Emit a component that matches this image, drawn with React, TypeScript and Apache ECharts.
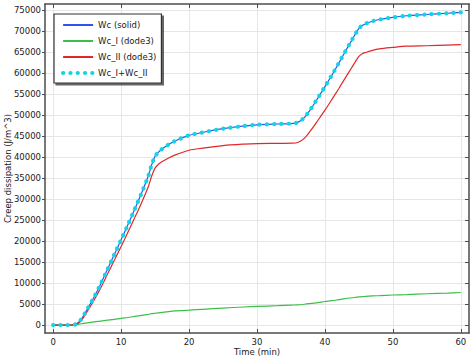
import React, { useEffect, useRef } from "react";
import * as echarts from "echarts";

const timeMin = [0, 1, 2, 3, 3.5, 4, 4.5, 5, 6, 7, 8, 9, 10, 11, 12, 13, 14, 14.5, 15, 15.5, 16, 17, 18, 20, 22, 25, 28, 30, 33, 35, 36, 37, 38, 39, 40, 41, 42, 43, 44, 45, 45.5, 46, 47, 48, 50, 52, 55, 58, 60];

const wcSolid = [0, 0, 0, 50, 350, 1100, 2300, 3700, 6600, 9800, 13300, 16800, 20300, 23900, 27600, 31400, 35500, 38200, 40200, 41200, 41900, 43000, 43900, 45200, 45900, 46800, 47400, 47700, 47900, 48000, 48300, 49500, 51700, 54200, 56800, 59500, 62300, 65200, 68000, 70700, 71400, 71800, 72400, 72800, 73300, 73700, 74000, 74300, 74500];

const wcI = [0, 0, 0, 0, 100, 250, 400, 500, 750, 950, 1150, 1350, 1600, 1800, 2050, 2300, 2550, 2700, 2800, 2900, 3000, 3200, 3350, 3550, 3750, 4050, 4300, 4450, 4600, 4750, 4800, 4950, 5150, 5350, 5600, 5800, 6050, 6300, 6500, 6700, 6750, 6850, 6950, 7000, 7150, 7250, 7450, 7600, 7750];

const wcII = [0, 0, 0, 50, 250, 850, 1900, 3200, 5850, 8850, 12150, 15450, 18700, 22100, 25550, 29100, 32950, 35500, 37400, 38300, 38900, 39800, 40550, 41650, 42150, 42750, 43100, 43250, 43300, 43350, 43500, 44550, 46550, 48850, 51200, 53700, 56250, 58900, 61500, 64000, 64650, 64950, 65450, 65800, 66150, 66450, 66550, 66700, 66800];

const wcSum = [0, 0, 0, 50, 350, 1100, 2300, 3700, 6600, 9800, 13300, 16800, 20300, 23900, 27600, 31400, 35500, 38200, 40200, 41200, 41900, 43000, 43900, 45200, 45900, 46800, 47400, 47700, 47900, 48000, 48300, 49500, 51700, 54200, 56800, 59500, 62300, 65200, 68000, 70700, 71400, 71800, 72400, 72800, 73300, 73700, 74000, 74300, 74500];

const xTicks = [0, 10, 20, 30, 40, 50, 60];
const yTicks = [0, 5000, 10000, 15000, 20000, 25000, 30000, 35000, 40000, 45000, 50000, 55000, 60000, 65000, 70000, 75000];

const seriesNames = ["Wc (solid)", "Wc_I (dode3)", "Wc_II (dode3)", "Wc_I+Wc_II"];

const FONT = "DejaVu Sans";
const AXIS_COLOR = "#4d4d4d";
const DOTS = { width: 4.2, type: [0.1, 7.2], cap: "round" };

function pairs(ys: number[]) {
  return timeMin.map((t, i) => [t, ys[i]]);
}

export default function App() {
  const ref = useRef<HTMLDivElement>(null);
  useEffect(() => {
    if (!ref.current) return;
    const chart = echarts.init(ref.current, undefined, { renderer: "svg" });
    const xMin = -1.2;
    const xMax = 61.2;
    const yMin = -1900;
    const yMax = 76500;
    const labelStyle = { fontFamily: FONT, fontSize: 8.5, color: "#1a1a1a" };
    chart.setOption({
      animation: false,
      backgroundColor: "#ffffff",
      grid: {
        left: 45,
        right: 5,
        top: 4,
        bottom: 24,
        containLabel: false,
        outerBoundsMode: "none",
      },
      legend: {
        orient: "vertical",
        left: 54,
        top: 14,
        padding: [6, 5, 5, 7],
        itemWidth: 30,
        itemHeight: 10,
        itemGap: 6,
        backgroundColor: "#ffffff",
        borderColor: "#333333",
        borderWidth: 1.2,
        borderRadius: 0,
        shadowColor: "rgba(0,0,0,0.6)",
        shadowBlur: 1,
        shadowOffsetX: 2,
        shadowOffsetY: 2,
        itemStyle: { opacity: 0, color: "rgba(0,0,0,0)", borderWidth: 0 },
        textStyle: { fontFamily: FONT, fontSize: 8.5, color: "#1a1a1a", lineHeight: 10 },
        data: [
          { name: seriesNames[0] },
          { name: seriesNames[1] },
          { name: seriesNames[2] },
          { name: seriesNames[3], lineStyle: { ...DOTS, color: "#12d4e6" } },
        ],
      },
      xAxis: [
        {
          type: "value",
          min: xMin,
          max: xMax,
          name: "Time (min)",
          nameLocation: "middle",
          nameGap: 14,
          nameMoveOverlap: false,
          nameTextStyle: labelStyle,
          axisLine: { show: true, onZero: false, lineStyle: { color: AXIS_COLOR, width: 1.5 } },
          axisTick: { show: true, inside: true, length: 4, customValues: xTicks, lineStyle: { color: AXIS_COLOR } },
          axisLabel: { customValues: xTicks, margin: 4, formatter: (v: number) => String(v), ...labelStyle },
          splitLine: { show: true, lineStyle: { color: "#e6e6e6", width: 1 } },
        },
        {
          type: "value",
          position: "top",
          min: xMin,
          max: xMax,
          axisLine: { show: true, onZero: false, lineStyle: { color: AXIS_COLOR, width: 1.5 } },
          axisTick: { show: true, inside: true, length: 4, customValues: xTicks, lineStyle: { color: AXIS_COLOR } },
          axisLabel: { show: false },
          splitLine: { show: false },
        },
      ],
      yAxis: [
        {
          type: "value",
          min: yMin,
          max: yMax,
          name: "Creep dissipation (J/m^3)",
          nameLocation: "middle",
          nameRotate: 90,
          nameGap: 33,
          nameMoveOverlap: false,
          nameTextStyle: labelStyle,
          axisLine: { show: true, onZero: false, lineStyle: { color: AXIS_COLOR, width: 1.5 } },
          axisTick: { show: true, inside: false, length: 3, customValues: yTicks, lineStyle: { color: AXIS_COLOR } },
          axisLabel: { customValues: yTicks, margin: 4, formatter: (v: number) => String(v), ...labelStyle },
          splitLine: { show: true, lineStyle: { color: "#e6e6e6", width: 1 } },
        },
        {
          type: "value",
          position: "right",
          min: yMin,
          max: yMax,
          axisLine: { show: true, onZero: false, lineStyle: { color: AXIS_COLOR, width: 1.5 } },
          axisTick: { show: true, inside: true, length: 4, customValues: yTicks, lineStyle: { color: AXIS_COLOR } },
          axisLabel: { show: false },
          splitLine: { show: false },
        },
      ],
      series: [
        {
          name: seriesNames[0],
          type: "line",
          data: pairs(wcSolid),
          smooth: 0.3,
          symbol: "none",
          color: "#3352f0",
          lineStyle: { width: 1.2, color: "#3352f0" },
          z: 2,
        },
        {
          name: seriesNames[1],
          type: "line",
          data: pairs(wcI),
          smooth: 0.3,
          symbol: "none",
          color: "#3cbf4a",
          lineStyle: { width: 1.2, color: "#3cbf4a" },
          z: 2,
        },
        {
          name: seriesNames[2],
          type: "line",
          data: pairs(wcII),
          smooth: 0.3,
          symbol: "none",
          color: "#e02828",
          lineStyle: { width: 1.2, color: "#e02828" },
          z: 2,
        },
        {
          name: seriesNames[3],
          type: "line",
          data: pairs(wcSum),
          smooth: 0.3,
          symbol: "none",
          color: "#12d4e6",
          lineStyle: { ...DOTS, color: "#12d4e6" },
          z: 3,
        },
      ],
    });
    return () => chart.dispose();
  }, []);
  return (
    <div
      ref={ref}
      style={{ position: "fixed", left: 0, top: 0, width: 474, height: 357, background: "#fff" }}
    />
  );
}
